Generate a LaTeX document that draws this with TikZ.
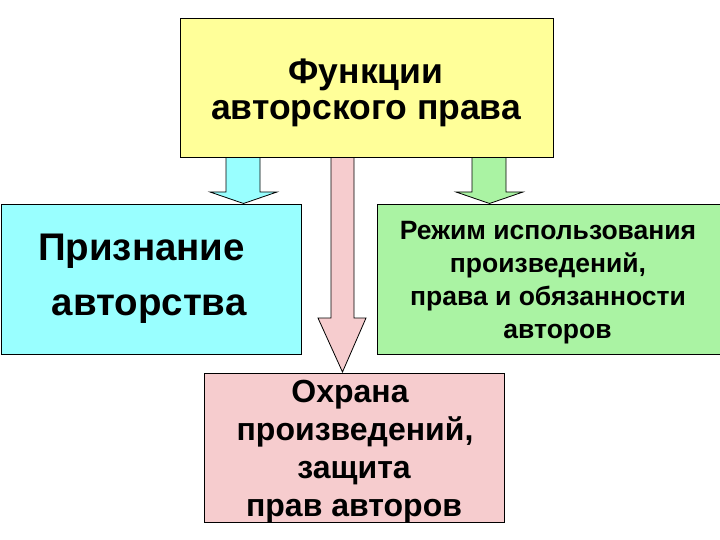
\documentclass[tikz,border=0pt]{standalone}
\usepackage{fontspec}
\setmainfont{Liberation Sans}
\definecolor{cyellow}{RGB}{255,255,153}
\definecolor{ccyan}{RGB}{153,255,255}
\definecolor{cgreen}{RGB}{170,243,163}
\definecolor{cpink}{RGB}{246,204,206}
\begin{document}
\begin{tikzpicture}[x=1pt,y=-1pt,
  box/.style={draw=black, line width=0.9pt, anchor=north west, inner sep=0pt},
  txt/.style={inner sep=0pt, align=center},
  blockarrow/.style={draw=black, line width=0.8pt, line join=miter}]
\useasboundingbox (0,0) rectangle (720,540);
% arrows
\draw[blockarrow, fill=ccyan] (226,157) -- (260,157) -- (260,192) -- (277,192) -- (243.5,203.5) -- (210,192) -- (226,192) -- cycle;
\draw[blockarrow, fill=cpink] (331,157) -- (354,157) -- (354,318) -- (366,318) -- (342.5,372) -- (318,318) -- (331,318) -- cycle;
\draw[blockarrow, fill=cgreen] (472,157) -- (506,157) -- (506,192) -- (523,192) -- (489.5,203.5) -- (456,192) -- (472,192) -- cycle;
% boxes
\node[box, fill=cyellow, minimum width=373pt, minimum height=139pt] (top) at (180,18) {};
\node[box, fill=ccyan, minimum width=300pt, minimum height=150pt] (left) at (1,204) {};
\node[box, fill=cgreen, minimum width=345pt, minimum height=150pt] (right) at (377,204) {};
\node[box, fill=cpink, minimum width=300pt, minimum height=149pt] (bottom) at (204,373) {};
% texts
\node[txt, font=\bfseries\fontsize{35.5}{36.5}\selectfont] (top-t) at (366,93) {Функции\\авторского права};
\node[txt, font=\bfseries\fontsize{38.5}{55}\selectfont] (left-t) at (149,279) {Признание\hspace*{15pt}\\авторства};
\node[txt, font=\bfseries\fontsize{26.5}{33}\selectfont] (right-t) at (548,282.5) {Режим использования\\произведений,\hspace*{35pt}\\права и обязанности\\\hspace*{19pt}авторов};
\node[txt, font=\bfseries\fontsize{32}{38}\selectfont] (bottom-t) at (354,452) {Охрана\hspace*{8pt}\\\hspace*{2pt}произведений,\\защита\hspace*{10pt}\\прав авторов};
\end{tikzpicture}
\end{document}
